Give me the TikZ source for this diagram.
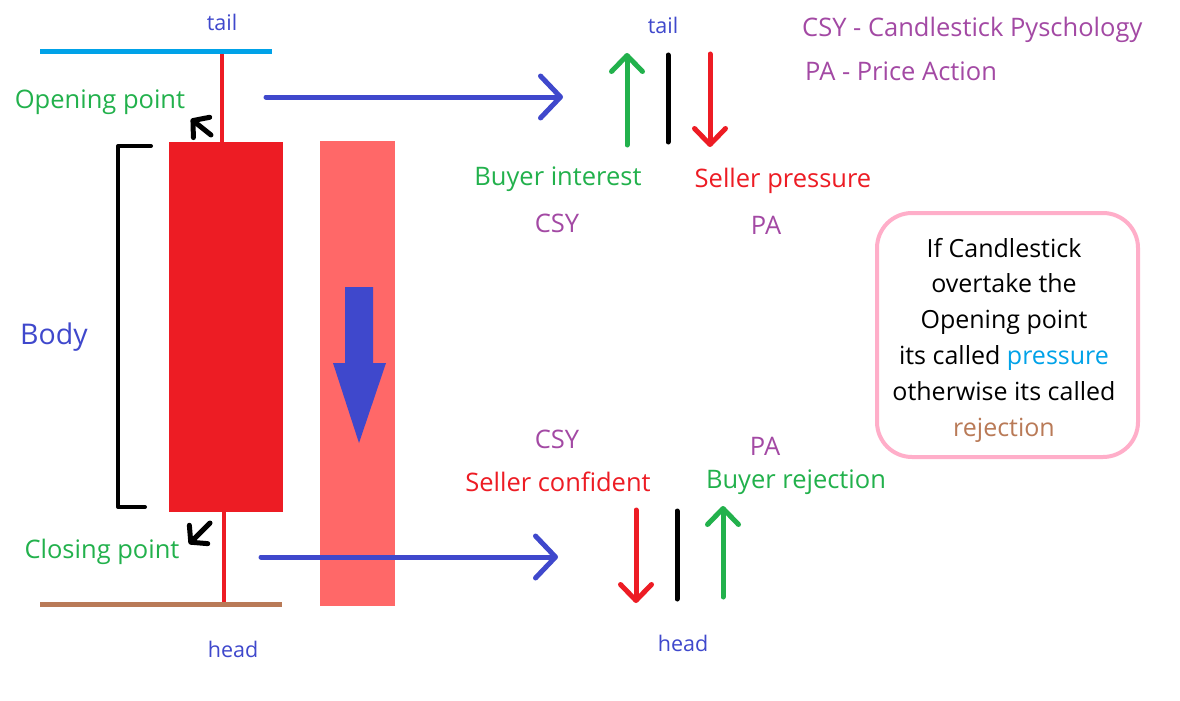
\documentclass[tikz,border=0pt]{standalone}
\usepackage{fontspec}
\setmainfont{Open Sans}
\usetikzlibrary{arrows.meta}
\definecolor{cblue}{HTML}{3F48CC}
\definecolor{cgreen}{HTML}{22B14C}
\definecolor{cred}{HTML}{ED1C24}
\definecolor{ccyan}{HTML}{00A2E8}
\definecolor{cbrown}{HTML}{B97A57}
\definecolor{cpurple}{HTML}{A349A4}
\definecolor{cpink}{HTML}{FFAEC9}
\definecolor{clight}{HTML}{FF6868}
\tikzset{
  lbl/.style={inner sep=0pt, font=\fontsize{25.5}{30}\selectfont},
  small/.style={inner sep=0pt, font=\fontsize{21.5}{26}\selectfont, text=cblue},
  bigchev/.style={line width=5pt, line cap=round, -{Straight Barb[length=20pt,width=42pt,round]}},
  midchev/.style={line width=5pt, line cap=round, -{Straight Barb[length=16pt,width=31pt,round]}},
  tinychev/.style={line width=5pt, line cap=round, -{Straight Barb[length=11pt,width=26pt,round]}},
  plain/.style={line width=5pt, line cap=round},
}
\begin{document}
\begin{tikzpicture}[x=1pt,y=-1pt]
\useasboundingbox[fill=white] (0,0) rectangle (1180,701);
% candle
\fill[clight] (320,141) rectangle (395,606);
\draw[ccyan, line width=5pt] (40,52) -- (272,52);
\draw[cred, line width=4pt] (222,54) -- (222,142);
\draw[cred, line width=4pt] (224,512) -- (224,603);
\fill[cred] (169,142) rectangle (283,512);
\draw[cbrown, line width=5pt] (40,604) -- (282,604);
% bracket
\draw[black, line width=4pt, line cap=round, line join=round] (151,146) -- (118,146) -- (118,507) -- (145,507);
% big arrow
\fill[cblue] (345,287) -- (373,287) -- (373,363) -- (386,363) -- (359,443) -- (333,363) -- (345,363) -- cycle;
% labels left
\node[small] (tailL) at (222,22) {tail};
\node[small] (headL) at (233,649) {head};
\node[lbl, text=cgreen] (open) at (100,102) {Opening point};
\node[lbl, text=cgreen] (close) at (102,552) {Closing point};
\node[inner sep=0pt, font=\fontsize{28.5}{33}\selectfont, text=cblue] (body) at (54,337) {Body};
% small black arrows
\coordinate (oa1) at (211,135); \coordinate (oa2) at (191,119);
\draw[tinychev] (oa1) -- (oa2);
\coordinate (ca1) at (210,523); \coordinate (ca2) at (189,544);
\draw[tinychev] (ca1) -- (ca2);
% blue connectors
\coordinate (t1) at (266,97); \coordinate (t2) at (563,97);
\draw[cblue, bigchev] (t1) -- (t2);
\coordinate (b1) at (261,557); \coordinate (b2) at (558,557);
\draw[cblue, bigchev] (b1) -- (b2);
% top right arrows
\coordinate (g1) at (627,145); \coordinate (g2) at (627,53);
\draw[cgreen, midchev] (g1) -- (g2);
\coordinate (k1) at (668,55); \coordinate (k2) at (668,142);
\draw[black, plain] (k1) -- (k2);
\coordinate (r1) at (710,54); \coordinate (r2) at (710,147);
\draw[cred, midchev] (r1) -- (r2);
\node[small] (tailR) at (663,25) {tail};
\node[lbl, text=cgreen] (buyi) at (558,179) {Buyer interest};
\node[lbl, text=cred] (sellp) at (783,181) {Seller pressure};
\node[lbl, text=cpurple] (csy1) at (557,223) {CSY};
\node[lbl, text=cpurple] (pa1) at (766,225) {PA};
% bottom right
\node[lbl, text=cpurple] (csy2) at (557,439) {CSY};
\node[lbl, text=cpurple] (pa2) at (765,446) {PA};
\node[lbl, text=cred] (sellc) at (558,482) {Seller confident};
\node[lbl, text=cgreen] (buyr) at (796,482) {Buyer rejection};
\coordinate (r3) at (636,510); \coordinate (r4) at (636,603);
\draw[cred, midchev] (r3) -- (r4);
\coordinate (k3) at (677,511); \coordinate (k4) at (677,599);
\draw[black, plain] (k3) -- (k4);
\coordinate (g3) at (723,597); \coordinate (g4) at (723,506);
\draw[cgreen, midchev] (g3) -- (g4);
\node[small] (headR) at (683,643) {head};
% legend
\node[lbl, text=cpurple, anchor=west] (leg1) at (802,30) {CSY - Candlestick Pyschology};
\node[lbl, text=cpurple, anchor=west] (leg2) at (805,71) {PA - Price Action};
% box
\node[draw=cpink, line width=4pt, rounded corners=35pt, minimum width=261pt, minimum height=244pt, inner sep=0pt] (box) at (1007.5,335) {};
\node[inner sep=0pt, align=center, font=\fontsize{25}{35.8}\selectfont] (boxtext) at (1004,340) {If Candlestick\\overtake the\\Opening point\\its called \textcolor{ccyan}{pressure}\\otherwise its called\\\textcolor{cbrown}{rejection}};
\end{tikzpicture}
\end{document}
